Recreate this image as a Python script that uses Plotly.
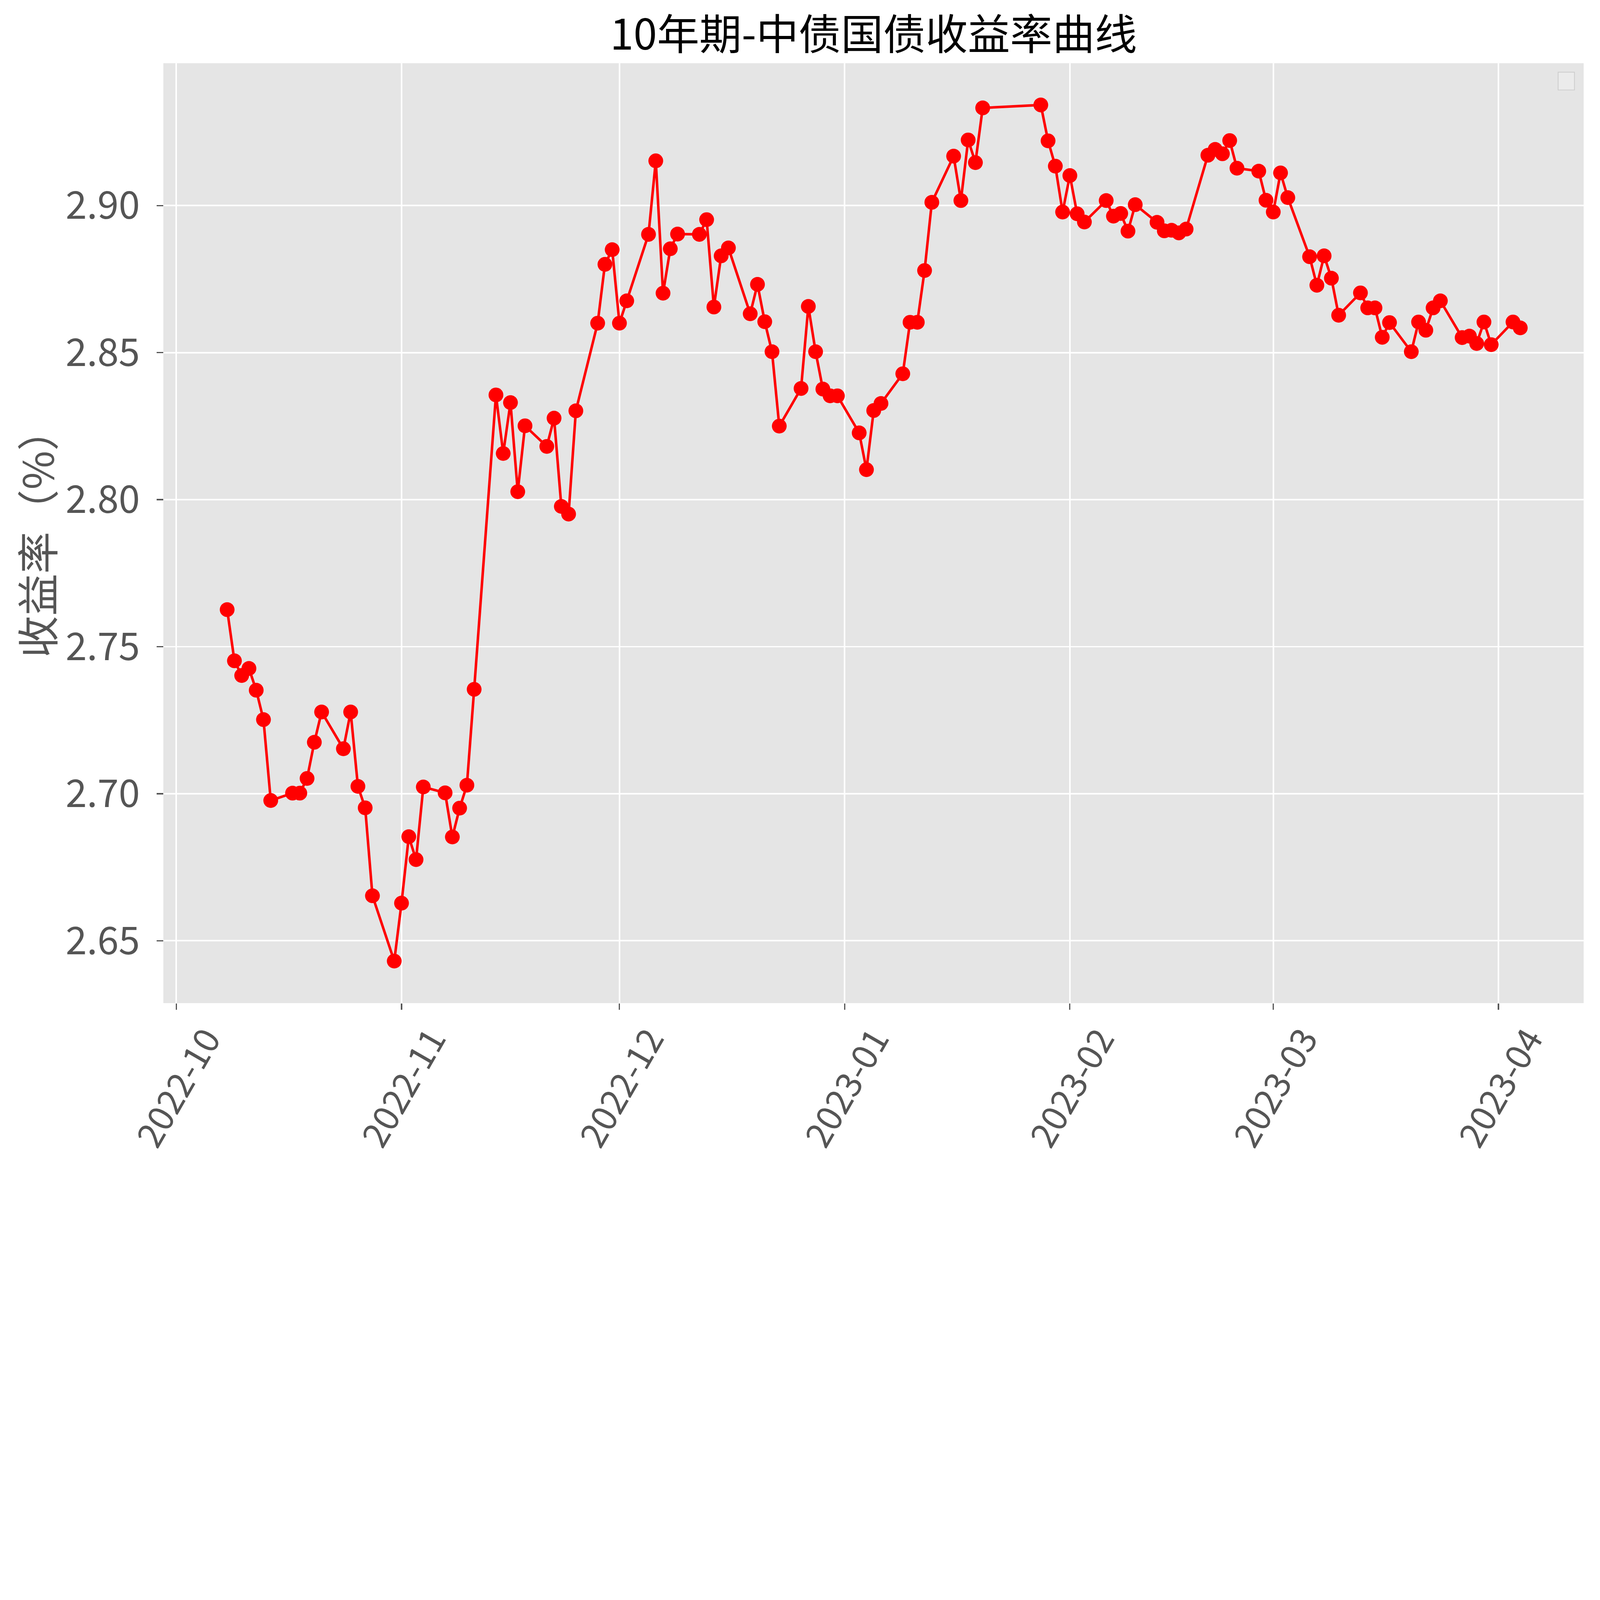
import plotly.graph_objects as go

# 10年期中债国债收益率 (%)
dates = [
    "2022-10-08", "2022-10-09", "2022-10-10", "2022-10-11", "2022-10-12", "2022-10-13", "2022-10-14",
    "2022-10-17", "2022-10-18", "2022-10-19", "2022-10-20", "2022-10-21",
    "2022-10-24", "2022-10-25", "2022-10-26", "2022-10-27", "2022-10-28", "2022-10-31",
    "2022-11-01", "2022-11-02", "2022-11-03", "2022-11-04",
    "2022-11-07", "2022-11-08", "2022-11-09", "2022-11-10", "2022-11-11",
    "2022-11-14", "2022-11-15", "2022-11-16", "2022-11-17", "2022-11-18",
    "2022-11-21", "2022-11-22", "2022-11-23", "2022-11-24", "2022-11-25",
    "2022-11-28", "2022-11-29", "2022-11-30", "2022-12-01", "2022-12-02",
    "2022-12-05", "2022-12-06", "2022-12-07", "2022-12-08", "2022-12-09",
    "2022-12-12", "2022-12-13", "2022-12-14", "2022-12-15", "2022-12-16",
    "2022-12-19", "2022-12-20", "2022-12-21", "2022-12-22", "2022-12-23",
    "2022-12-26", "2022-12-27", "2022-12-28", "2022-12-29", "2022-12-30", "2022-12-31",
    "2023-01-03", "2023-01-04", "2023-01-05", "2023-01-06",
    "2023-01-09", "2023-01-10", "2023-01-11", "2023-01-12", "2023-01-13",
    "2023-01-16", "2023-01-17", "2023-01-18", "2023-01-19", "2023-01-20",
    "2023-01-28", "2023-01-29", "2023-01-30", "2023-01-31",
    "2023-02-01", "2023-02-02", "2023-02-03",
    "2023-02-06", "2023-02-07", "2023-02-08", "2023-02-09", "2023-02-10",
    "2023-02-13", "2023-02-14", "2023-02-15", "2023-02-16", "2023-02-17",
    "2023-02-20", "2023-02-21", "2023-02-22", "2023-02-23", "2023-02-24",
    "2023-02-27", "2023-02-28", "2023-03-01", "2023-03-02", "2023-03-03",
    "2023-03-06", "2023-03-07", "2023-03-08", "2023-03-09", "2023-03-10",
    "2023-03-13", "2023-03-14", "2023-03-15", "2023-03-16", "2023-03-17",
    "2023-03-20", "2023-03-21", "2023-03-22", "2023-03-23", "2023-03-24",
    "2023-03-27", "2023-03-28", "2023-03-29", "2023-03-30", "2023-03-31",
    "2023-04-03", "2023-04-04",
]

yields = [
    2.7626, 2.7452, 2.7402, 2.7426, 2.7352, 2.7252, 2.6977,
    2.7002, 2.7002, 2.7052, 2.7175, 2.7278,
    2.7153, 2.7278, 2.7025, 2.6952, 2.6653, 2.6431,
    2.6628, 2.6854, 2.6776, 2.7023,
    2.7003, 2.6853, 2.6951, 2.7029, 2.7355,
    2.8356, 2.8157, 2.8330, 2.8027, 2.8251,
    2.8181, 2.8277, 2.7977, 2.7951, 2.8302,
    2.8600, 2.8800, 2.8850, 2.8600, 2.8676,
    2.8902, 2.9152, 2.8702, 2.8853, 2.8903,
    2.8902, 2.8952, 2.8655, 2.8829, 2.8856,
    2.8632, 2.8732, 2.8605, 2.8503, 2.8250,
    2.8378, 2.8657, 2.8503, 2.8376, 2.8353, 2.8353,
    2.8227, 2.8102, 2.8303, 2.8327,
    2.8428, 2.8603, 2.8603, 2.8779, 2.9011,
    2.9168, 2.9017, 2.9223, 2.9146, 2.9332,
    2.9342, 2.9220, 2.9134, 2.8978,
    2.9102, 2.8972, 2.8944,
    2.9017, 2.8964, 2.8973, 2.8913, 2.9003,
    2.8943, 2.8914, 2.8916, 2.8907, 2.8920,
    2.9171, 2.9191, 2.9176, 2.9221, 2.9127,
    2.9117, 2.9018, 2.8978, 2.9111, 2.9027,
    2.8826, 2.8729, 2.8829, 2.8753, 2.8627,
    2.8703, 2.8652, 2.8652, 2.8552, 2.8602,
    2.8503, 2.8604, 2.8576, 2.8652, 2.8676,
    2.8551, 2.8556, 2.8531, 2.8604, 2.8527,
    2.8604, 2.8584,
]

month_ticks = ["2022-10-01", "2022-11-01", "2022-12-01", "2023-01-01",
               "2023-02-01", "2023-03-01", "2023-04-01"]
month_labels = ["2022-10", "2022-11", "2022-12", "2023-01", "2023-02", "2023-03", "2023-04"]
y_ticks = [2.65, 2.70, 2.75, 2.80, 2.85, 2.90]

FONT = "Noto Sans CJK SC"
GRAY = "#555555"
W, H = 6278, 4573

fig = go.Figure()
fig.add_trace(go.Scatter(
    x=dates, y=yields, mode="lines+markers",
    line=dict(color="red", width=10),
    marker=dict(color="red", size=58),
    showlegend=False,
))

fig.update_layout(
    width=W, height=H,
    margin=dict(l=641, r=64, t=248, b=637, autoexpand=False),
    paper_bgcolor="white",
    plot_bgcolor="#E5E5E5",
    title=dict(text="10年期-中债国债收益率曲线", x=0.5, xref="paper", xanchor="center",
               y=0.9700, yref="container", yanchor="middle",
               font=dict(family=FONT, size=166, color="black")),
    font=dict(family=FONT, color=GRAY),
)

fig.update_xaxes(
    type="date",
    range=["2022-09-29 05:15", "2023-04-12 17:30"],
    tickvals=month_ticks, showticklabels=False,
    ticks="outside", ticklen=25, tickwidth=5, tickcolor=GRAY,
    showgrid=True, gridcolor="white", gridwidth=6,
    zeroline=False, showline=False,
)
fig.update_yaxes(
    range=[2.6288, 2.9484],
    tickvals=y_ticks, tickformat=".2f",
    ticks="outside", ticklen=25, tickwidth=5, tickcolor=GRAY,
    ticklabelstandoff=36,
    tickfont=dict(family=FONT, size=150, color=GRAY),
    showgrid=True, gridcolor="white", gridwidth=6,
    zeroline=False, showline=False,
)

# rotated month labels centred under each tick, as matplotlib draws them
for t, lab in zip(month_ticks, month_labels):
    fig.add_annotation(x=t, xref="x", y=-0.0887, yref="paper",
                       text=lab, textangle=-60, showarrow=False,
                       xanchor="center", yanchor="middle",
                       font=dict(family=FONT, size=138, color=GRAY))

fig.add_annotation(x=-0.0899, xref="paper", y=0.5, yref="paper",
                   text="收益率（%）", textangle=-90, showarrow=False,
                   xanchor="center", yanchor="middle",
                   font=dict(family=FONT, size=165, color=GRAY))

# empty legend frame in the upper right corner
fig.add_shape(type="rect", xref="paper", yref="paper",
              x0=0.982, x1=0.9935, y0=0.9715, y1=0.9905,
              line=dict(color="#cccccc", width=3), fillcolor="#ebebeb")

# shrink the whole figure to fit if the browser window is smaller than the figure
fit_js = """
var gd = document.getElementById('{plot_id}');
document.body.style.margin = '0';
document.documentElement.style.overflow = 'hidden';
var s = Math.min(1, window.innerWidth / %d, window.innerHeight / %d);
gd.style.transformOrigin = '0 0';
gd.style.transform = 'scale(' + s + ')';
""" % (W, H)

fig.write_html("out.html", post_script=fit_js, config={"displayModeBar": False})
